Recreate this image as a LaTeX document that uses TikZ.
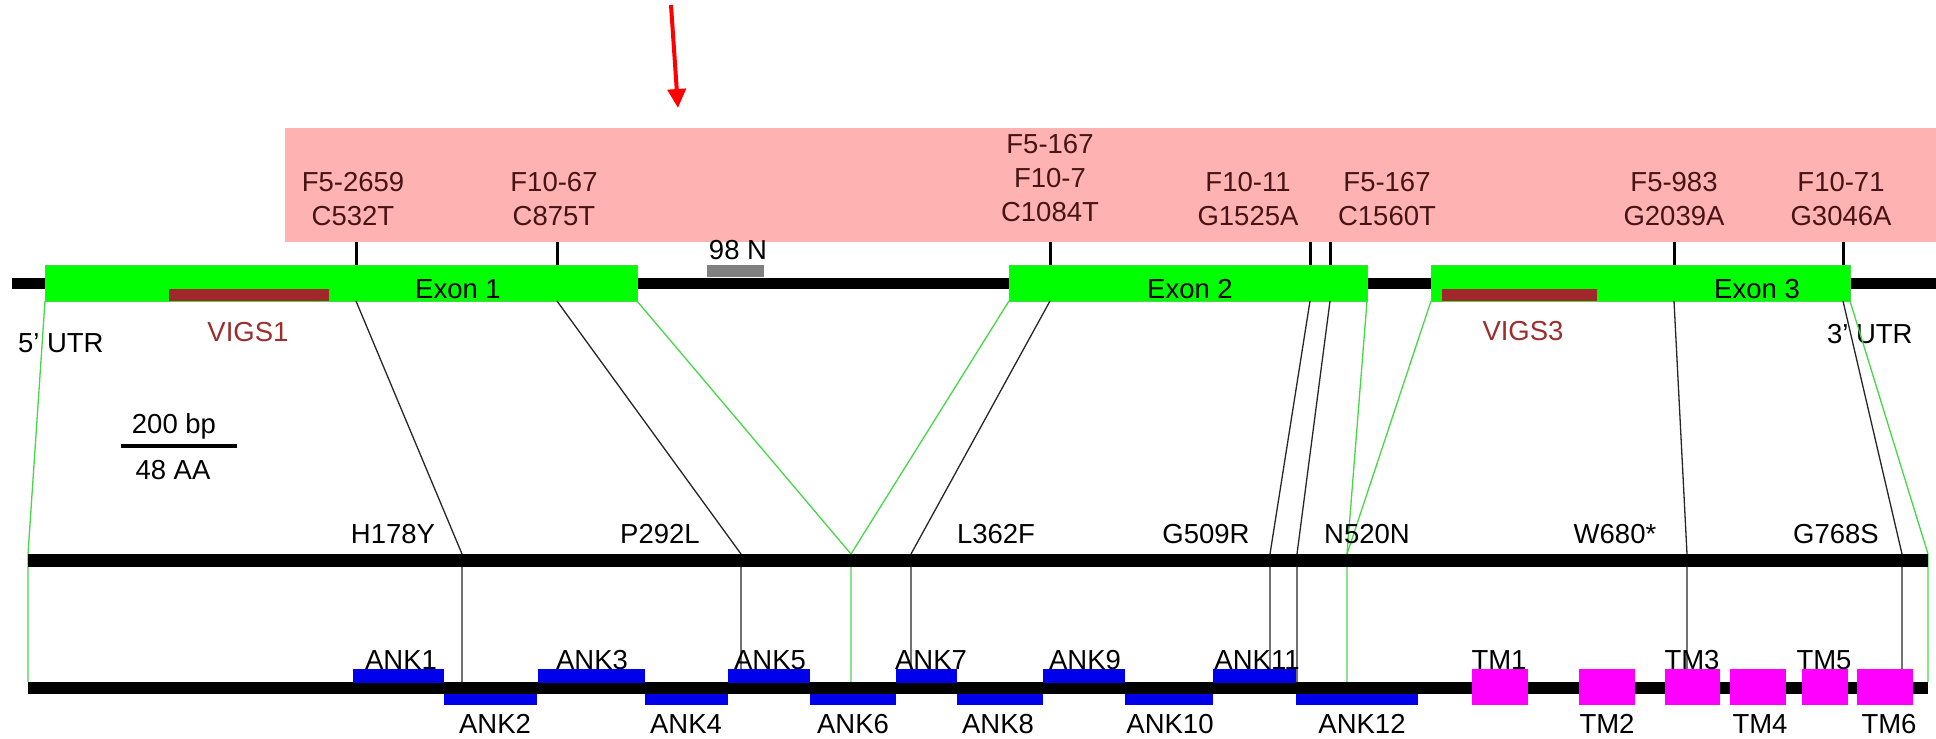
\documentclass[tikz,border=0pt]{standalone}
\usepackage{fontspec}
\setmainfont{Liberation Sans}
\usetikzlibrary{arrows.meta}
\definecolor{pinkbg}{RGB}{255,178,178}
\definecolor{exgreen}{RGB}{0,255,0}
\definecolor{lngreen}{RGB}{70,215,70}
\definecolor{vigsbar}{RGB}{160,40,42}
\definecolor{vigstxt}{RGB}{155,45,45}
\definecolor{snptxt}{RGB}{70,20,20}
\definecolor{ankblue}{RGB}{0,0,235}
\definecolor{tmmag}{RGB}{255,0,255}
\definecolor{nbox}{RGB}{128,128,128}
\begin{document}
\begin{tikzpicture}[x=1pt,y=-1pt,
  txt/.style={font=\fontsize{27.5}{34}\selectfont, inner sep=0pt, outer sep=0pt, anchor=base, align=center},
  snp/.style={txt, text=snptxt},
  conn/.style={line width=1.3pt, black!85},
  gconn/.style={line width=1.3pt, lngreen},
  snptick/.style={line width=3pt},
  exonbox/.style={fill=exgreen, draw=lngreen, line width=0.8pt, inner sep=0pt, outer sep=0pt, minimum height=36pt, anchor=north west},
  ankbox/.style={fill=ankblue},
  tmbox/.style={fill=tmmag}
]
\useasboundingbox (0,0) rectangle (1936,739);

% pink background band
\fill[pinkbg] (285,128) rectangle (1936,242);

% red arrow
\coordinate (arrA) at (671,5);
\coordinate (arrB) at (678,108);
\draw[red, line width=4pt, -{Triangle[length=19pt,width=18pt]}] (arrA) -- (arrB);

% genomic line
\coordinate (g0) at (12,283.5);
\coordinate (g1) at (1936,283.5);
\draw[line width=11pt] (g0) -- (g1);

% 98 N gap box
\fill[nbox] (707,265) rectangle (764,277);
\node[txt] (n98) at (738,259) {98 N};

% exons
\node[exonbox, minimum width=592pt] (ex1) at (45,265) {};
\node[exonbox, minimum width=358pt] (ex2) at (1009,265) {};
\node[exonbox, minimum width=419pt] (ex3) at (1431,265) {};
\fill[vigsbar] (169,289) rectangle (329,301);
\fill[vigsbar] (1442,289) rectangle (1597,301);
\node[txt] (tex1) at (458,298) {Exon 1};
\node[txt] (tex2) at (1190,298) {Exon 2};
\node[txt] (tex3) at (1757,298) {Exon 3};
\node[txt, text=vigstxt] (tv1) at (248,341) {VIGS1};
\node[txt, text=vigstxt] (tv3) at (1523,340) {VIGS3};
\node[txt, anchor=base west] (utr5) at (18,352) {5’ UTR};
\node[txt, anchor=base west] (utr3) at (1827,343) {3’ UTR};

% SNP labels (anchor = baseline of last line)
\node[snp] (s1) at (353,225) {F5-2659\\C532T};
\node[snp] (s2) at (554,225) {F10-67\\C875T};
\node[snp] (s3) at (1050,221) {F5-167\\F10-7\\C1084T};
\node[snp] (s4) at (1248,225) {F10-11\\G1525A};
\node[snp] (s5) at (1387,225) {F5-167\\C1560T};
\node[snp] (s6) at (1674,225) {F5-983\\G2039A};
\node[snp] (s7) at (1841,225) {F10-71\\G3046A};

% SNP ticks (top) and bottom anchor points on exons
\foreach \n/\x in {1/356,2/557,3/1050,4/1310,5/1330,6/1674,7/1843}{
  \coordinate (tt\n) at (\x,242);
  \coordinate (tb\n) at (\x,265);
  \coordinate (eb\n) at (\x,301);
  \draw[snptick] (tt\n) -- (tb\n);
}

% points on protein line 1 and 2
\foreach \n/\x in {1/462,2/741,3/911,4/1270,5/1297,6/1687,7/1902}{
  \coordinate (p\n) at (\x,554);
  \coordinate (q\n) at (\x,682);
}
\coordinate (gp0) at (28,554);   \coordinate (gq0) at (28,682);
\coordinate (gp1) at (851,554);  \coordinate (gq1) at (851,682);
\coordinate (gp2) at (1347,554); \coordinate (gq2) at (1347,682);
\coordinate (gp3) at (1928,554); \coordinate (gq3) at (1928,682);

% mapping connectors
\foreach \n in {1,...,7}{
  \draw[conn] (eb\n) -- (p\n) -- (q\n);
}
\draw[gconn] (ex1.south west) -- (gp0) -- (gq0);
\draw[gconn] (ex1.south east) -- (gp1) -- (gq1);
\draw[gconn] (ex2.south west) -- (gp1);
\draw[gconn] (ex2.south east) -- (gp2) -- (gq2);
\draw[gconn] (ex3.south west) -- (gp2);
\draw[gconn] (ex3.south east) -- (gp3) -- (gq3);

% protein lines
\coordinate (L1a) at (28,560.5);
\coordinate (L1b) at (1928,560.5);
\draw[line width=13pt] (L1a) -- (L1b);
\coordinate (L2a) at (28,688);
\coordinate (L2b) at (1928,688);
\draw[line width=12pt] (L2a) -- (L2b);

% mutation labels
\node[txt] (mH) at (393,543) {H178Y};
\node[txt] (mP) at (660,543) {P292L};
\node[txt] (mL) at (996,543) {L362F};
\node[txt] (mG) at (1206,543) {G509R};
\node[txt] (mN) at (1367,543) {N520N};
\node[txt] (mW) at (1615,543) {W680*};
\node[txt] (mG2) at (1836,543) {G768S};

% scale bar
\coordinate (sbA) at (121,446);
\coordinate (sbB) at (237,446);
\draw[line width=3.5pt] (sbA) -- (sbB);
\node[txt] (sb1) at (174,433) {200 bp};
\node[txt] (sb2) at (173,479) {48 AA};

% ANK domains
\foreach \a/\b in {353/444,538/645,728/810,896/957,1043/1125,1213/1296}{
  \fill[ankbox] (\a,669) rectangle (\b,682.5);
}
\foreach \a/\b in {444/537,645/728,810/896,957/1043,1125/1213,1296/1418}{
  \fill[ankbox] (\a,693.5) rectangle (\b,705);
}
% TM domains
\foreach \a/\b in {1472/1528,1579/1635,1665/1720,1730/1786,1802/1848,1857/1913}{
  \fill[tmbox] (\a,669) rectangle (\b,705);
}

% domain labels
\node[txt] (a1) at (401,669) {ANK1};
\node[txt] (a3) at (592,669) {ANK3};
\node[txt] (a5) at (770,669) {ANK5};
\node[txt] (a7) at (931,669) {ANK7};
\node[txt] (a9) at (1085,669) {ANK9};
\node[txt] (a11) at (1257,669) {ANK11};
\node[txt] (a2) at (495,733) {ANK2};
\node[txt] (a4) at (686,733) {ANK4};
\node[txt] (a6) at (853,733) {ANK6};
\node[txt] (a8) at (998,733) {ANK8};
\node[txt] (a10) at (1170,733) {ANK10};
\node[txt] (a12) at (1362,733) {ANK12};
\node[txt] (t1) at (1499,669) {TM1};
\node[txt] (t3) at (1692,669) {TM3};
\node[txt] (t5) at (1824,669) {TM5};
\node[txt] (t2) at (1607,733) {TM2};
\node[txt] (t4) at (1760,733) {TM4};
\node[txt] (t6) at (1889,733) {TM6};
\end{tikzpicture}
\end{document}
